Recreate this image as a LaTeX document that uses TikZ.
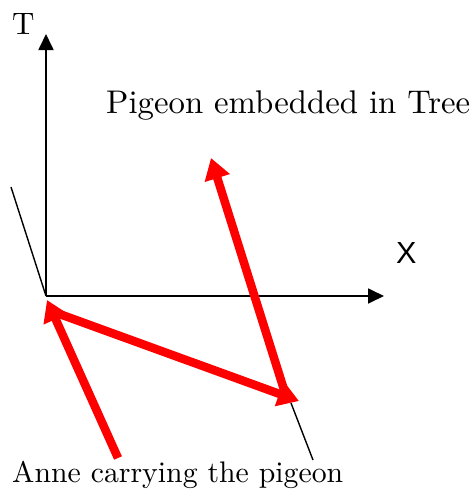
\documentclass[tikz,border=0pt]{standalone}
\usepackage{fontspec}
\newfontfamily\xsans{Liberation Sans}
\usetikzlibrary{arrows.meta}
\begin{document}
\begin{tikzpicture}[x=1pt,y=-1pt,
  axis/.style={line width=1.8pt,-{Triangle[length=16pt,width=15pt]}},
  thin/.style={line width=1.4pt},
  redarrow/.style={red,line width=8.5pt,-{Triangle[length=21pt,width=25pt]}},
  lbl/.style={inner sep=0pt,anchor=base west}]
\useasboundingbox (0,0) rectangle (472,490);
\coordinate (O) at (46,296);
\coordinate (Ttip) at (46,34);
\coordinate (Xtip) at (384,296);
\coordinate (L1) at (11,187);
\coordinate (L2a) at (291,403);
\coordinate (L2b) at (313,460);
\coordinate (A1s) at (118,458);
\coordinate (A1e) at (47,300);
\coordinate (A2s) at (54,312);
\coordinate (A2e) at (299,401);
\coordinate (A3s) at (286,396);
\coordinate (A3e) at (211,158);
\draw[thin] (L1) -- (O);
\draw[thin] (L2a) -- (L2b);
\draw[axis] (O) -- (Ttip);
\draw[axis] (O) -- (Xtip);
\draw[redarrow] (A1s) -- (A1e);
\draw[redarrow] (A2s) -- (A2e);
\draw[redarrow] (A3s) -- (A3e);
\node[lbl] (T) at (12,34) {\resizebox{!}{21pt}{T}};
\node[lbl] (X) at (396,263) {\resizebox{!}{21pt}{\xsans X}};
\node[lbl] (P) at (106,113) {\resizebox{364pt}{!}{Pigeon embedded in Tree}};
\node[lbl] (A) at (12,482) {\resizebox{331pt}{!}{Anne carrying the pigeon}};
\end{tikzpicture}
\end{document}
